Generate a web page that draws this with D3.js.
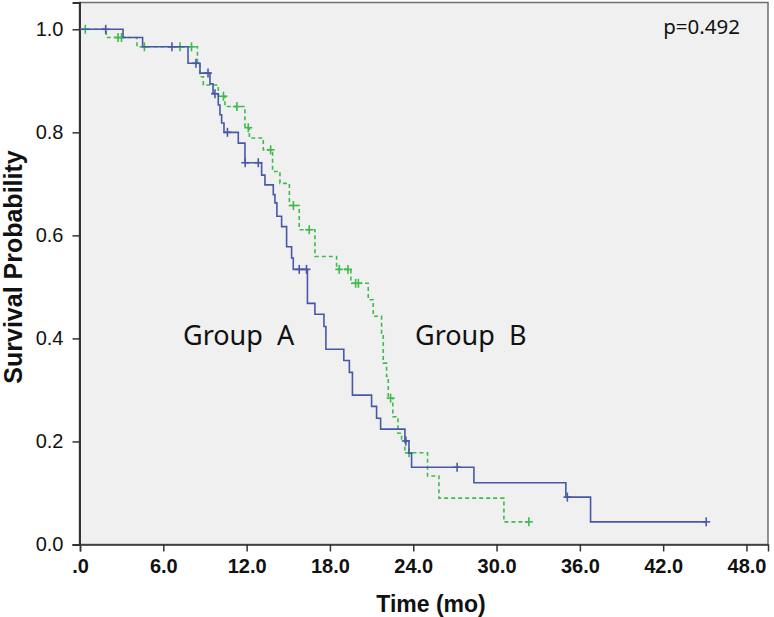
<!DOCTYPE html>
<html>
<head>
<meta charset="utf-8">
<script src="https://cdn.jsdelivr.net/npm/d3@7"></script>
<style>
  html, body { margin: 0; padding: 0; background: #ffffff; }
  svg { display: block; }
</style>
</head>
<body>
<div id="chart"></div>
<script>
// ---------- data ----------
const timeTicks = [0, 6, 12, 18, 24, 30, 36, 42, 48];
const timeTickLabels = [".0", "6.0", "12.0", "18.0", "24.0", "30.0", "36.0", "42.0", "48.0"];
const probTicks = [0, 0.2, 0.4, 0.6, 0.8, 1.0];
const probTickLabels = ["0.0", "0.2", "0.4", "0.6", "0.8", "1.0"];

// Group A (solid blue): event times and survival after each step
const groupATimes = [3.10, 4.51, 7.78, 8.64, 9.36, 9.58, 9.96, 10.08, 10.2, 10.37,
  11.4, 11.88, 13.08, 13.32, 13.92, 14.04, 14.18, 14.52, 14.88, 15.24,
  15.36, 16.38, 16.92, 17.57, 17.71, 19.0, 19.4, 19.62, 21.0, 21.36,
  21.65, 23.4, 23.69, 23.88, 28.37, 34.99, 36.77];
const groupASurv = [0.984, 0.966, 0.934, 0.915, 0.894, 0.875, 0.853, 0.834, 0.818, 0.800,
  0.779, 0.741, 0.717, 0.698, 0.679, 0.663, 0.637, 0.617, 0.578, 0.556,
  0.534, 0.468, 0.447, 0.423, 0.379, 0.357, 0.334, 0.290, 0.268, 0.245,
  0.224, 0.201, 0.177, 0.150, 0.120, 0.092, 0.044];
const groupACensor = [1.85, 6.62, 8.35, 9.22, 9.72, 10.62, 11.9, 12.84, 15.79, 16.31, 23.47, 27.16, 35.1, 45.1];

// Group B (dashed green)
const groupBTimes = [1.89, 4.10, 8.46, 8.64, 8.88, 9.96, 10.44, 11.88, 12.2, 13.2,
  13.87, 14.4, 15.08, 15.79, 16.92, 18.48, 19.51, 20.76, 21.12, 21.72,
  21.84, 22.08, 22.2, 22.53, 22.9, 23.16, 23.4, 25.03, 25.85, 30.53];
const groupBSurv = [0.984, 0.966, 0.935, 0.908, 0.892, 0.870, 0.850, 0.809, 0.789, 0.766,
  0.724, 0.701, 0.658, 0.611, 0.559, 0.534, 0.507, 0.475, 0.443, 0.410,
  0.352, 0.326, 0.284, 0.248, 0.216, 0.203, 0.178, 0.133, 0.090, 0.044];
const groupBCensor = [0.38, 2.74, 2.99, 4.64, 7.2, 8.03, 10.33, 11.3, 12.12, 13.73, 15.37, 16.51, 18.67, 19.3, 19.85, 20.05, 22.37, 23.7, 32.33];

const pValueText = "p=0.492";

// ---------- layout ----------
const W = 774, H = 617;
const plot = { left: 79.5, right: 768, top: 2.5, bottom: 544.5 };

const svg = d3.select("#chart").append("svg").attr("width", W).attr("height", H);

const x = d3.scaleLinear().domain([0, 49.55]).range([80, plot.right]);
const y = d3.scaleLinear().domain([0, 1.052]).range([plot.bottom, plot.top]);

// plot background
svg.append("rect")
  .attr("x", plot.left).attr("y", plot.top)
  .attr("width", plot.right - plot.left).attr("height", plot.bottom - plot.top)
  .attr("fill", "#f0f0f0")
  .attr("stroke", "#6e6e6e").attr("stroke-width", 1.5);

// axes
const yAxis = d3.axisLeft(y).tickValues(probTicks)
  .tickFormat((d, i) => probTickLabels[i]).tickSize(7).tickPadding(9);
const gy = svg.append("g").attr("transform", `translate(${plot.left},0)`).call(yAxis);
gy.select(".domain").attr("stroke", "#333").attr("stroke-width", 2);
gy.selectAll(".tick line").attr("stroke", "#333").attr("stroke-width", 1.5);
gy.selectAll(".tick text").attr("font-family", "'Liberation Sans', Arial, sans-serif")
  .attr("font-size", 20).attr("fill", "#111");

const xAxis = d3.axisBottom(x).tickValues(timeTicks)
  .tickFormat((d, i) => timeTickLabels[i]).tickSize(7).tickPadding(7);
const gx = svg.append("g").attr("transform", `translate(0,${plot.bottom})`).call(xAxis);
gx.select(".domain").attr("stroke", "#333").attr("stroke-width", 1.5);
gx.selectAll(".tick line").attr("stroke", "#333").attr("stroke-width", 1.5);
gx.selectAll(".tick text").attr("font-family", "'Liberation Sans', Arial, sans-serif")
  .attr("font-weight", "bold").attr("font-size", 20).attr("fill", "#111");

// axis titles
svg.append("text")
  .attr("x", 431).attr("y", 612)
  .attr("text-anchor", "middle")
  .attr("font-family", "'Liberation Sans', Arial, sans-serif")
  .attr("font-weight", "bold").attr("font-size", 23).attr("fill", "#111")
  .text("Time (mo)");

svg.append("text")
  .attr("transform", `translate(22,267) rotate(-90)`)
  .attr("text-anchor", "middle")
  .attr("font-family", "'Liberation Sans', Arial, sans-serif")
  .attr("font-weight", "bold").attr("font-size", 25).attr("fill", "#111")
  .text("Survival Probability");

// ---------- curves ----------
function stepPoints(times, surv, endTime) {
  const pts = [[0, 1]];
  times.forEach((t, i) => pts.push([t, surv[i]]));
  pts.push([endTime, surv[surv.length - 1]]);
  return pts;
}
function survAt(times, surv, t) {
  let s = 1;
  for (let i = 0; i < times.length; i++) if (times[i] <= t) s = surv[i];
  return s;
}

const line = d3.line().x(d => x(d[0])).y(d => y(d[1])).curve(d3.curveStepAfter);

const groups = [
  { times: groupATimes, surv: groupASurv, censor: groupACensor, color: "#4858a8", dash: null },
  { times: groupBTimes, surv: groupBSurv, censor: groupBCensor, color: "#3fba4c", dash: "4,3" }
];

// draw green first then blue on top
[groups[1], groups[0]].forEach(g => {
  const end = d3.max(g.censor);
  svg.append("path")
    .attr("d", line(stepPoints(g.times, g.surv, end)))
    .attr("fill", "none")
    .attr("stroke", g.color)
    .attr("stroke-width", 1.6)
    .attr("stroke-dasharray", g.dash);

  const marks = svg.append("g");
  g.censor.forEach(t => {
    const cx = x(t), cy = y(survAt(g.times, g.surv, t));
    marks.append("line").attr("x1", cx).attr("x2", cx).attr("y1", cy - 4.5).attr("y2", cy + 4.5)
      .attr("stroke", g.color).attr("stroke-width", 1.6);
    marks.append("line").attr("x1", cx - 4).attr("x2", cx + 4).attr("y1", cy).attr("y2", cy)
      .attr("stroke", g.color).attr("stroke-width", 1.6);
  });
});

// annotations
svg.append("text")
  .attr("x", 740).attr("y", 34).attr("text-anchor", "end")
  .attr("font-family", "'Noto Sans', 'Open Sans', sans-serif")
  .attr("font-size", 20.5).attr("fill", "#111")
  .text(pValueText);

svg.append("text")
  .attr("x", 183).attr("y", 345)
  .attr("font-family", "'Noto Sans', 'Open Sans', sans-serif")
  .attr("font-size", 27).attr("fill", "#111")
  .attr("word-spacing", 7)
  .text("Group A");

svg.append("text")
  .attr("x", 415).attr("y", 345)
  .attr("font-family", "'Noto Sans', 'Open Sans', sans-serif")
  .attr("font-size", 27).attr("fill", "#111")
  .attr("word-spacing", 7)
  .text("Group B");
</script>
</body>
</html>
